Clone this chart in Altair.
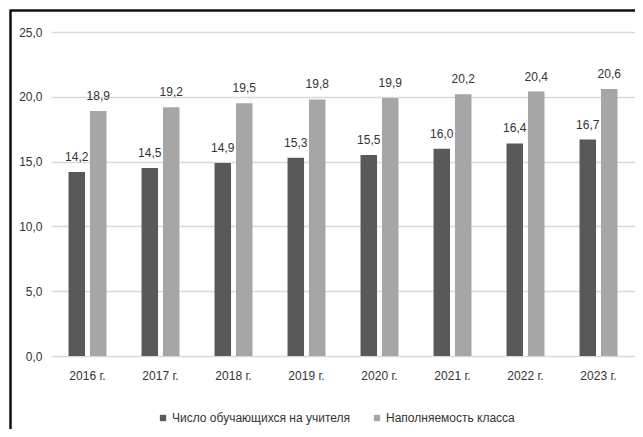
import altair as alt
import pandas as pd

years = ["2016 г.", "2017 г.", "2018 г.", "2019 г.", "2020 г.", "2021 г.", "2022 г.", "2023 г."]
series_names = ["Число обучающихся на учителя", "Наполняемость класса"]
students_per_teacher = [14.2, 14.5, 14.9, 15.3, 15.5, 16.0, 16.4, 16.7]
class_size = [18.9, 19.2, 19.5, 19.8, 19.9, 20.2, 20.4, 20.6]
y_ticks = [0, 5, 10, 15, 20, 25]
colors = ["#595959", "#a6a6a6"]

rows = []
for i, y in enumerate(years):
    rows.append({"year": y, "series": series_names[0], "value": students_per_teacher[i]})
    rows.append({"year": y, "series": series_names[1], "value": class_size[i]})
df = pd.DataFrame(rows)

FONT = "Liberation Sans"
FS = 12
fmt = "replace(format(datum.value, '.1f'), '.', ',')"

x_enc = alt.X("year:N", sort=years, title=None,
              scale=alt.Scale(paddingInner=0.48, paddingOuter=0.24),
              axis=alt.Axis(labelAngle=0, ticks=False, domain=False, grid=False, labelPadding=14,
                            labelFontSize=FS, labelFont=FONT, labelColor="#333333"))
xoff_enc = alt.XOffset("series:N", sort=series_names,
                       scale=alt.Scale(paddingInner=0.23, paddingOuter=0))
y_enc = alt.Y("value:Q", title=None,
              scale=alt.Scale(domain=[0, 25], nice=False),
              axis=alt.Axis(values=y_ticks, ticks=False, domain=False, labelPadding=9,
                            labelExpr=fmt, labelFontSize=FS, labelFont=FONT,
                            labelColor="#333333", gridColor="#d9d9d9", gridWidth=1.5))
color_enc = alt.Color("series:N", sort=series_names,
                      scale=alt.Scale(domain=series_names, range=colors),
                      legend=alt.Legend(title=None, orient="none", direction="horizontal",
                                        legendX=106, legendY=380, symbolType="square",
                                        symbolSize=40, symbolStrokeWidth=0, labelOffset=3,
                                        columnPadding=20, labelFontSize=FS, labelFont=FONT,
                                        labelLimit=0, labelColor="#333333"))

bars = alt.Chart(df).mark_bar().encode(x=x_enc, xOffset=xoff_enc, y=y_enc, color=color_enc)

labels = alt.Chart(df).transform_calculate(
    lbl=fmt
).mark_text(baseline="alphabetic", dy=-11, fontSize=FS, font=FONT, color="#333333").encode(
    x=alt.X("year:N", sort=years),
    xOffset=alt.XOffset("series:N", sort=series_names),
    y="value:Q",
    text="lbl:N",
)

one = pd.DataFrame({"a": [0]})
top_border = alt.Chart(one).mark_rule(color="#111111", strokeWidth=2.5).encode(
    x=alt.value(-40.5), x2=alt.value(590), y=alt.value(-21.5))
left_border = alt.Chart(one).mark_rule(color="#111111", strokeWidth=2.5).encode(
    x=alt.value(-40.5), y=alt.value(-22.5), y2=alt.value(400))

chart = alt.layer(bars, labels, top_border, left_border).properties(
    width=584, height=324,
    background="white",
    autosize=alt.AutoSizeParams(type="none"),
    padding={"left": 43, "top": 24, "right": 0, "bottom": 73},
).configure_view(strokeWidth=0)

chart.save("out.html", embed_options={"renderer": "svg", "actions": False})
